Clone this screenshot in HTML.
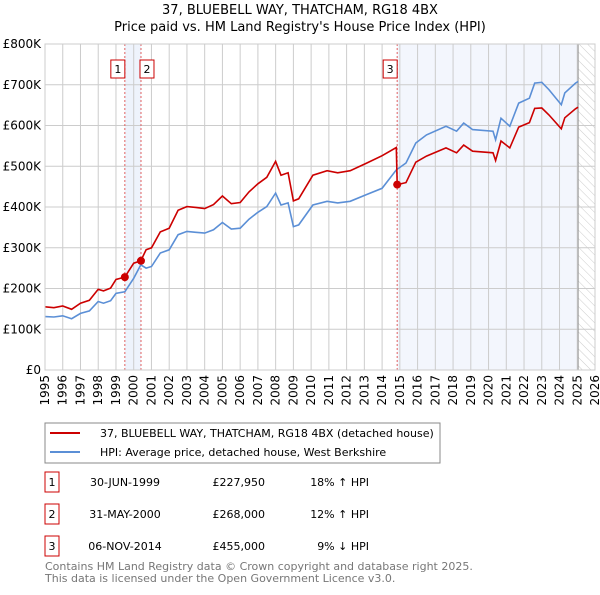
<!DOCTYPE html>
<html><head><meta charset="utf-8"><style>
body{margin:0;background:#fff;font-family:"Liberation Sans","DejaVu Sans",sans-serif;}
svg text{font-family:"DejaVu Sans","Liberation Sans",sans-serif;}
</style></head><body>
<svg id="c" width="600" height="590" xmlns="http://www.w3.org/2000/svg">
<defs><pattern id="hatch" width="6" height="6" patternUnits="userSpaceOnUse" patternTransform="rotate(-45)"><line x1="0" y1="0" x2="0" y2="6" stroke="#ccc" stroke-width="1"/></pattern></defs>
<text x="300" y="14" text-anchor="middle" font-size="13">37, BLUEBELL WAY, THATCHAM, RG18 4BX</text>
<text x="300" y="31" text-anchor="middle" font-size="13">Price paid vs. HM Land Registry's House Price Index (HPI)</text>
<g id="plot"></g>
<rect x="45" y="423" width="395" height="40" fill="#fff" stroke="#888"/>
<line x1="50" y1="433" x2="80" y2="433" stroke="#cc0000" stroke-width="2"/>
<text x="100" y="437" font-size="11">37, BLUEBELL WAY, THATCHAM, RG18 4BX (detached house)</text>
<line x1="50" y1="452" x2="80" y2="452" stroke="#5b8fd6" stroke-width="2"/>
<text x="100" y="456" font-size="11">HPI: Average price, detached house, West Berkshire</text>
<g font-size="11">
<rect x="45" y="472" width="14" height="20" fill="#fff" stroke="#cc0000"/><text x="52" y="486" text-anchor="middle">1</text>
<text x="125" y="486" text-anchor="middle">30-JUN-1999</text><text x="265" y="486" text-anchor="end">£227,950</text><text x="369" y="486" text-anchor="end">18% ↑ HPI</text>
<rect x="45" y="504" width="14" height="20" fill="#fff" stroke="#cc0000"/><text x="52" y="518" text-anchor="middle">2</text>
<text x="125" y="518" text-anchor="middle">31-MAY-2000</text><text x="265" y="518" text-anchor="end">£268,000</text><text x="369" y="518" text-anchor="end">12% ↑ HPI</text>
<rect x="45" y="536" width="14" height="20" fill="#fff" stroke="#cc0000"/><text x="52" y="550" text-anchor="middle">3</text>
<text x="125" y="550" text-anchor="middle">06-NOV-2014</text><text x="265" y="550" text-anchor="end">£455,000</text><text x="369" y="550" text-anchor="end">9% ↓ HPI</text>
</g>
<text x="45" y="570" font-size="11" fill="#777">Contains HM Land Registry data © Crown copyright and database right 2025.</text>
<text x="45" y="582" font-size="11" fill="#777">This data is licensed under the Open Government Licence v3.0.</text>
</svg>
<script>
const yTicks=[0,100,200,300,400,500,600,700,800];
const yTickLabels=["£0","£100K","£200K","£300K","£400K","£500K","£600K","£700K","£800K"];
const xTicks=[1995,1996,1997,1998,1999,2000,2001,2002,2003,2004,2005,2006,2007,2008,2009,2010,2011,2012,2013,2014,2015,2016,2017,2018,2019,2020,2021,2022,2023,2024,2025,2026];
const hpiYears=[1995,1995.5,1996,1996.5,1997,1997.5,1998,1998.3,1998.7,1999,1999.5,2000,2000.4,2000.7,2001,2001.5,2002,2002.5,2003,2003.5,2004,2004.5,2005,2005.5,2006,2006.5,2007,2007.5,2008,2008.3,2008.7,2009,2009.3,2010.1,2010.9,2011.5,2012.2,2013.1,2014,2014.8,2015.35,2015.9,2016.5,2017.6,2018.2,2018.6,2019.1,2020.25,2020.4,2020.7,2021.2,2021.7,2022.3,2022.6,2023.0,2023.4,2024.1,2024.3,2024.9,2025.05];
const hpiValues=[131,130,133,126,139,145,168,164,170,188,192,225,258,250,254,287,295,332,340,338,336,344,362,346,348,370,387,401,434,405,410,352,356,405,414,410,414,430,446,491,508,557,577,598,586,606,590,586,565,618,598,655,667,704,706,688,651,680,704,708];
const priceYears=[1995,1995.5,1996,1996.5,1997,1997.5,1998,1998.3,1998.7,1999,1999.5,2000,2000.4,2000.7,2001,2001.5,2002,2002.5,2003,2003.5,2004,2004.5,2005,2005.5,2006,2006.5,2007,2007.5,2008,2008.3,2008.7,2009,2009.3,2010.1,2010.9,2011.5,2012.2,2013.1,2014,2014.8,2014.85,2015.35,2015.9,2016.5,2017.6,2018.2,2018.6,2019.1,2020.25,2020.4,2020.7,2021.2,2021.7,2022.3,2022.6,2023.0,2023.4,2024.1,2024.3,2024.9,2025.05];
const priceValues=[155,153,157,149,164,171,198,194,201,222,228,262,268,295,300,339,348,392,401,399,396,406,427,408,411,437,457,473,512,478,484,415,420,478,489,484,489,507,526,546,455,460,510,525,545,533,552,537,533,514,562,545,596,607,642,643,626,592,619,641,645];
const saleYears=[1999.5,2000.41,2014.85];
const saleValues=[227.95,268,455];
const saleLabels=["1","2","3"];

const L=45,R=595,T=44,B=370;
const xS=y=>L+(y-1995)*(R-L)/31;
const yS=v=>B-v*(B-T)/800;
const g=document.getElementById('plot');
const NS='http://www.w3.org/2000/svg';
function mk(t,a){const e=document.createElementNS(NS,t);for(const k in a)e.setAttribute(k,a[k]);g.appendChild(e);return e;}
let e;
e=mk('rect',{x:xS(saleYears[0]),y:T,width:xS(saleYears[1])-xS(saleYears[0]),height:B-T,fill:'#eef3fc'});


e=mk('rect',{x:xS(saleYears[2]),y:T,width:xS(2025.05)-xS(saleYears[2]),height:B-T,fill:'#f3f6fd'});


e=mk('rect',{x:xS(2025.05),y:T,width:R-xS(2025.05),height:B-T,fill:'url(#hatch)'});


xTicks.forEach((y,i)=>{
 e=mk('line',{x1:xS(y),x2:xS(y),y1:T,y2:B,stroke:'#ccc','stroke-width':1});
 
 
 const t=mk('text',{x:0,y:0,'font-size':12,'text-anchor':'end',transform:`translate(${xS(y)+4},${B+5}) rotate(-90)`});
 t.textContent=y;
 
 
});
yTicks.forEach((v,i)=>{
 e=mk('line',{x1:L,x2:R,y1:yS(v),y2:yS(v),stroke:'#ccc','stroke-width':1});
 
 
 const t=mk('text',{x:L-4,y:yS(v)+4,'font-size':12,'text-anchor':'end'});
 t.textContent=yTickLabels[i];
 
 
});
e=mk('line',{x1:xS(2025.05),x2:xS(2025.05),y1:T,y2:B,stroke:'#999','stroke-width':1});


saleYears.forEach((y,i)=>{
 e=mk('line',{x1:xS(y),x2:xS(y),y1:T,y2:B,stroke:'#e06060','stroke-width':1,'stroke-dasharray':'2,2'});
 
 
});
function path(xs,vs,c,n){
 const d=xs.map((y,i)=>(i?'L':'M')+xS(y).toFixed(1)+','+yS(vs[i]).toFixed(1)).join('');
 const p=mk('path',{d:d,fill:'none',stroke:c,'stroke-width':1.6});
 
 
}
path(hpiYears,hpiValues,'#5b8fd6','hpi-line');
path(priceYears,priceValues,'#cc0000','price-line');
saleYears.forEach((y,i)=>{
 e=mk('circle',{cx:xS(y),cy:yS(saleValues[i]),r:4,fill:'#cc0000'});
 
 
 const bx=i==1?xS(y)-1:xS(y)-14;
 e=mk('rect',{x:bx,y:60,width:14,height:18,fill:'#fff',stroke:'#cc0000'});
 
 
 const t=mk('text',{x:bx+7,y:73,'font-size':11,'text-anchor':'middle'});
 t.textContent=saleLabels[i];
 
 
});
e=mk('rect',{x:L,y:T,width:R-L,height:B-T,fill:'none',stroke:'#ccc'});


</script>
</body></html>
